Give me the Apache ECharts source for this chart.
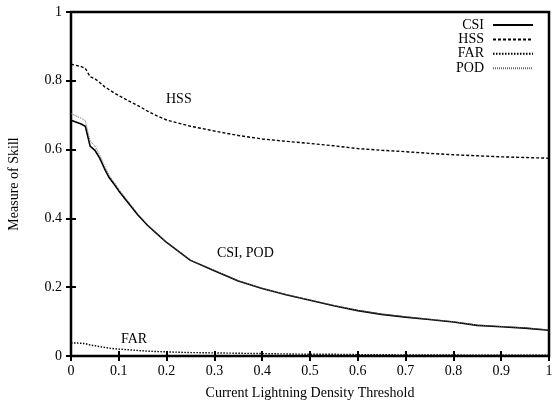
<!DOCTYPE html>
<html>
<head>
<meta charset="utf-8">
<script src="https://cdn.jsdelivr.net/npm/echarts@6/dist/echarts.min.js"></script>
<style>html,body{margin:0;padding:0;background:#fff}#c{width:554px;height:400px}</style>
</head>
<body>
<div id="c"></div>
<script>
const thresholds = [0, 0.01, 0.02, 0.03, 0.04, 0.05, 0.06, 0.07, 0.08, 0.09, 0.10, 0.12, 0.14, 0.16, 0.18, 0.20, 0.25, 0.30, 0.35, 0.40, 0.45, 0.50, 0.55, 0.60, 0.65, 0.70, 0.75, 0.80, 0.85, 0.90, 0.95, 1.00];
const csi = [0.685, 0.680, 0.675, 0.668, 0.610, 0.598, 0.575, 0.545, 0.518, 0.500, 0.480, 0.445, 0.410, 0.380, 0.355, 0.330, 0.278, 0.248, 0.218, 0.196, 0.178, 0.162, 0.146, 0.132, 0.121, 0.113, 0.106, 0.099, 0.089, 0.085, 0.081, 0.075];
const hss = [0.848, 0.845, 0.842, 0.836, 0.812, 0.806, 0.795, 0.783, 0.774, 0.765, 0.757, 0.742, 0.728, 0.712, 0.698, 0.686, 0.668, 0.654, 0.641, 0.631, 0.624, 0.618, 0.611, 0.603, 0.598, 0.594, 0.589, 0.585, 0.582, 0.579, 0.577, 0.575];
const far = [0.038, 0.038, 0.037, 0.036, 0.032, 0.030, 0.027, 0.025, 0.023, 0.021, 0.020, 0.018, 0.016, 0.014, 0.013, 0.012, 0.010, 0.009, 0.008, 0.007, 0.006, 0.005, 0.005, 0.004, 0.004, 0.003, 0.003, 0.003, 0.002, 0.002, 0.002, 0.002];
const pod = [0.705, 0.698, 0.692, 0.684, 0.625, 0.610, 0.585, 0.553, 0.525, 0.506, 0.485, 0.449, 0.413, 0.382, 0.356, 0.331, 0.279, 0.249, 0.219, 0.197, 0.179, 0.163, 0.147, 0.133, 0.122, 0.114, 0.107, 0.100, 0.090, 0.086, 0.082, 0.076];
const seriesNames = ['CSI', 'HSS', 'FAR', 'POD'];
const xTitle = 'Current Lightning Density Threshold';
const yTitle = 'Measure of Skill';

const FONT = 'Liberation Serif';
const pairs = arr => thresholds.map((t, i) => [t, arr[i]]);
const chart = echarts.init(document.getElementById('c'), null, {renderer: 'canvas'});
const tickStyle = {show: true, inside: true, length: 5, lineStyle: {color: '#000', width: 2}};
const lbl = {color: '#000', fontFamily: FONT, fontSize: 14};
const mk = (name, data, lineStyle) => ({
  name, type: 'line', data: pairs(data), symbol: 'none', showSymbol: false, smooth: false,
  lineStyle: Object.assign({color: '#000', width: 1.5}, lineStyle),
  itemStyle: {color: lineStyle.color || '#000'},
  animation: false, z: 3
});
chart.setOption({
  backgroundColor: '#fff',
  animation: false,
  grid: {left: 71, right: 5, top: 12, bottom: 44, show: true, borderColor: '#000', borderWidth: 2.5,
         backgroundColor: 'transparent', outerBoundsMode: 'none', containLabel: false},
  legend: {
    orient: 'vertical', right: 15, top: 13, align: 'right',
    itemWidth: 40, itemHeight: 10, itemGap: 0.4,
    itemStyle: {opacity: 0},
    textStyle: {color: '#000', fontFamily: FONT, fontSize: 14, lineHeight: 14, width: 34, align: 'right', padding: [0, 4, 0, 0]},
    data: seriesNames,
    selectedMode: false
  },
  xAxis: [
    {type: 'value', min: 0, max: 1, interval: 0.1, position: 'bottom',
     axisLine: {show: false}, axisTick: tickStyle, splitLine: {show: false},
     axisLabel: Object.assign({margin: 8}, lbl),
     name: xTitle, nameLocation: 'middle', nameGap: 30, nameTextStyle: {color: '#000', fontFamily: FONT, fontSize: 14}},
    {type: 'value', min: 0, max: 1, interval: 0.1, position: 'top',
     axisLine: {show: false}, axisTick: tickStyle, splitLine: {show: false}, axisLabel: {show: false}}
  ],
  yAxis: [
    {type: 'value', min: 0, max: 1, interval: 0.2, position: 'left',
     axisLine: {show: false}, axisTick: tickStyle, splitLine: {show: false},
     axisLabel: Object.assign({margin: 9}, lbl),
     name: yTitle, nameLocation: 'middle', nameGap: 50, nameTextStyle: {color: '#000', fontFamily: FONT, fontSize: 14}},
    {type: 'value', min: 0, max: 1, interval: 0.2, position: 'right',
     axisLine: {show: false}, axisTick: tickStyle, splitLine: {show: false}, axisLabel: {show: false}}
  ],
  graphic: [
    {type: 'text', left: 166, top: 92, style: {text: 'HSS', fill: '#000', font: '14px "Liberation Serif"'}},
    {type: 'text', left: 217, top: 246, style: {text: 'CSI, POD', fill: '#000', font: '14px "Liberation Serif"'}},
    {type: 'text', left: 121, top: 332, style: {text: 'FAR', fill: '#000', font: '14px "Liberation Serif"'}}
  ],
  series: [
    mk('CSI', csi, {type: 'solid', width: 1.6}),
    mk('HSS', hss, {type: [3, 2], width: 1.4}),
    mk('FAR', far, {type: [1.5, 1.5], width: 1.4}),
    mk('POD', pod, {type: [1, 1], width: 1, color: '#666'})
  ]
});
</script>
</body>
</html>
